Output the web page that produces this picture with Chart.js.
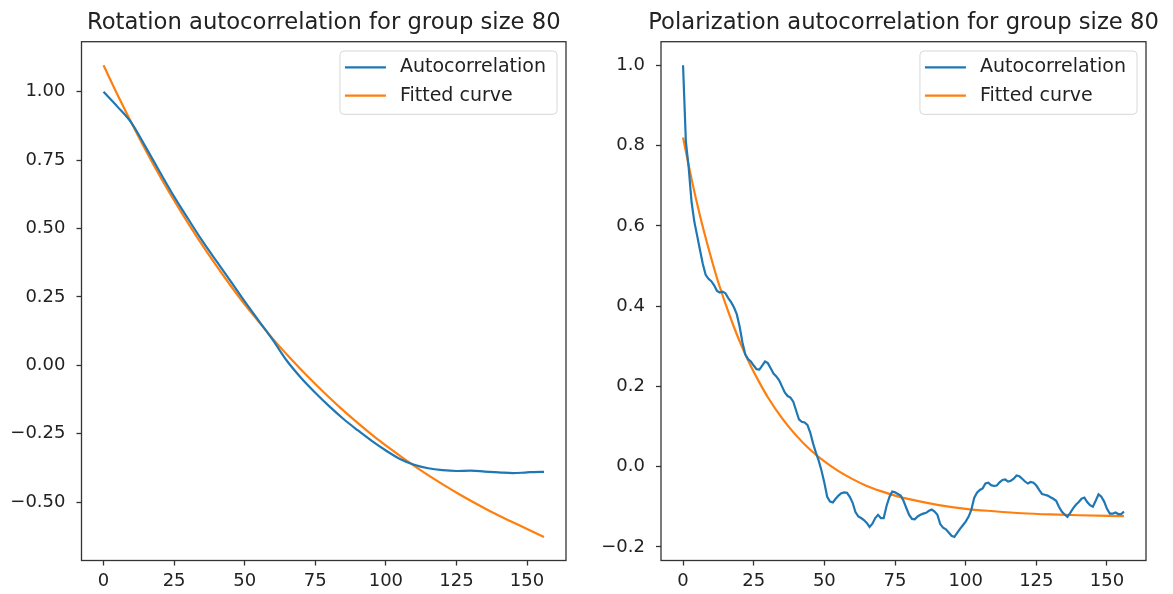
<!DOCTYPE html>
<html>
<head>
<meta charset="utf-8">
<title>Autocorrelation for group size 80</title>
<script src="https://cdn.jsdelivr.net/npm/chart.js@4.4.1/dist/chart.umd.min.js"></script>
<style>
  html, body { margin: 0; padding: 0; background: #ffffff; }
  #wrap { position: relative; width: 1173px; height: 594px; overflow: hidden; }
  .panel { position: absolute; top: 0; height: 594px; }
</style>
</head>
<body>
<div id="wrap">
  <div class="panel" style="left:0;width:590px"><canvas id="rotation"></canvas></div>
  <div class="panel" style="left:590px;width:583px"><canvas id="polarization"></canvas></div>
</div>
<script>
// ---- tick values and labels ----
const xTicks = [0, 25, 50, 75, 100, 125, 150];
const xTickLabels = ['0', '25', '50', '75', '100', '125', '150'];
const rotYTicks = [-0.5, -0.25, 0, 0.25, 0.5, 0.75, 1.0];
const rotYTickLabels = ['\u22120.50', '\u22120.25', '0.00', '0.25', '0.50', '0.75', '1.00'];
const polYTicks = [-0.2, 0, 0.2, 0.4, 0.6, 0.8, 1.0];
const polYTickLabels = ['\u22120.2', '0.0', '0.2', '0.4', '0.6', '0.8', '1.0'];

const seriesNames = ['Autocorrelation', 'Fitted curve'];

// ---- rotation: measured autocorrelation ----
const rotLags = [0, 5, 10, 15, 20, 25, 30, 35, 40, 45, 50, 55, 60, 65, 70, 75, 80, 85, 90, 95,
                 100, 105, 110, 115, 120, 125, 130, 135, 140, 145, 150, 155, 156];
const rotAuto = [1.000, 0.945, 0.885, 0.797, 0.706, 0.617, 0.535, 0.455, 0.381, 0.308,
                 0.234, 0.163, 0.092, 0.016, -0.046, -0.100, -0.150, -0.196, -0.237, -0.276,
                 -0.311, -0.342, -0.363, -0.376, -0.383, -0.386, -0.385, -0.388, -0.391, -0.394,
                 -0.391, -0.389, -0.389];

// ---- rotation: fitted curve ----
const rotFitLags = [0, 6, 12, 18, 24, 30, 36, 42, 48, 54, 60, 66, 72, 78, 84, 90, 96, 102,
                    108, 114, 120, 126, 132, 138, 144, 150, 156];
const rotFit = [1.097, 0.967, 0.844, 0.728, 0.620, 0.519, 0.424, 0.335, 0.250, 0.172,
                0.097, 0.028, -0.037, -0.098, -0.156, -0.210, -0.261, -0.308, -0.353, -0.395,
                -0.434, -0.471, -0.506, -0.539, -0.569, -0.598, -0.627];

// ---- polarization: measured autocorrelation, one value per lag 0..156 ----
const polAuto = [
  1.000, 0.810, 0.745, 0.660, 0.610, 0.575, 0.540, 0.505, 0.478, 0.468,
  0.462, 0.452, 0.438, 0.434, 0.436, 0.432, 0.420, 0.410, 0.397, 0.380,
  0.350, 0.310, 0.280, 0.268, 0.262, 0.252, 0.243, 0.242, 0.252, 0.262,
  0.258, 0.245, 0.232, 0.225, 0.215, 0.200, 0.185, 0.176, 0.172, 0.162,
  0.140, 0.118, 0.112, 0.110, 0.104, 0.085, 0.058, 0.035, 0.015, -0.010,
  -0.040, -0.075, -0.087, -0.089, -0.080, -0.072, -0.066, -0.064, -0.065, -0.075,
  -0.090, -0.113, -0.124, -0.128, -0.133, -0.140, -0.150, -0.142, -0.128, -0.120,
  -0.128, -0.128, -0.098, -0.076, -0.062, -0.064, -0.068, -0.072, -0.085, -0.103,
  -0.120, -0.130, -0.131, -0.124, -0.120, -0.117, -0.115, -0.110, -0.107, -0.112,
  -0.120, -0.143, -0.152, -0.156, -0.164, -0.172, -0.175, -0.165, -0.155, -0.146,
  -0.137, -0.125, -0.108, -0.078, -0.065, -0.058, -0.054, -0.042, -0.040, -0.046,
  -0.048, -0.047, -0.039, -0.033, -0.032, -0.037, -0.035, -0.030, -0.022, -0.024,
  -0.030, -0.037, -0.042, -0.038, -0.040, -0.047, -0.058, -0.068, -0.070, -0.072,
  -0.076, -0.080, -0.085, -0.100, -0.112, -0.119, -0.125, -0.115, -0.104, -0.095,
  -0.088, -0.080, -0.077, -0.088, -0.096, -0.100, -0.085, -0.069, -0.075, -0.087,
  -0.105, -0.117, -0.117, -0.114, -0.118, -0.118, -0.112
];
const polLags = polAuto.map((_, i) => i);

// ---- polarization: fitted curve ----
const polFitLags = [0, 3, 6, 9, 12, 15, 18, 21, 24, 27, 30, 35, 40, 45, 50, 55, 60, 65,
                    70, 75, 80, 90, 100, 110, 120, 130, 140, 156];
const polFit = [0.820, 0.717, 0.625, 0.544, 0.470, 0.406, 0.348, 0.296, 0.250, 0.210,
                0.173, 0.121, 0.078, 0.042, 0.013, -0.011, -0.031, -0.048, -0.061, -0.072,
                -0.081, -0.095, -0.105, -0.111, -0.116, -0.119, -0.121, -0.123];

// ---- styling ----
const FONT = '"DejaVu Sans", "Liberation Sans", sans-serif';
const INK = '#222222';
const FRAME = '#333333';
const BLUE = '#1f77b4';
const ORANGE = '#ff7f0e';

const toPoints = (xs, ys) => xs.map((x, i) => ({ x: x, y: ys[i] }));

// axis limits with a 5% margin around the data, like a default pyplot axes
function paddedRange(arrays) {
  const all = [].concat(...arrays);
  const lo = Math.min(...all), hi = Math.max(...all);
  const m = (hi - lo) * 0.05;
  return [lo - m, hi + m];
}

// title centred over the plotting area; allowed to run wider than the axes
const axesTitle = {
  id: 'axesTitle',
  afterDraw(chart, args, opts) {
    const { ctx, chartArea: a } = chart;
    ctx.save();
    ctx.font = '22.7px ' + FONT;
    ctx.fillStyle = INK;
    ctx.textAlign = 'center';
    ctx.textBaseline = 'alphabetic';
    ctx.fillText(opts.text, (a.left + a.right) / 2, 28.5);
    ctx.restore();
  }
};

// box around the plotting area (drawn above the lines)
const frameBox = {
  id: 'frameBox',
  afterDatasetsDraw(chart) {
    const { ctx, chartArea: a } = chart;
    ctx.save();
    ctx.strokeStyle = FRAME;
    ctx.lineWidth = 1.3;
    ctx.strokeRect(a.left, a.top, a.right - a.left, a.bottom - a.top);
    ctx.restore();
  }
};

// legend in the upper-right corner inside the axes
const insetLegend = {
  id: 'insetLegend',
  afterDraw(chart) {
    const { ctx, chartArea: a } = chart;
    const items = chart.data.datasets;
    ctx.save();
    ctx.font = '19px ' + FONT;
    const textW = Math.max(...items.map(d => ctx.measureText(d.label).width));
    const padL = 5, handle = 41, gap = 14, padR = 11, rowH = 28.4, padT = 16.3, h = 63.3;
    const w = padL + handle + gap + textW + padR;
    const right = a.right - 9;
    const left = right - w;
    const top = a.top + 9.3;
    ctx.beginPath();
    ctx.roundRect(left, top, w, h, 4);
    ctx.fillStyle = 'rgba(255,255,255,0.85)';
    ctx.fill();
    ctx.strokeStyle = '#d8d8d8';
    ctx.lineWidth = 1;
    ctx.stroke();
    items.forEach((d, i) => {
      const y = top + padT + i * rowH;
      ctx.beginPath();
      ctx.moveTo(left + padL, y);
      ctx.lineTo(left + padL + handle, y);
      ctx.strokeStyle = d.borderColor;
      ctx.lineWidth = d.borderWidth;
      ctx.stroke();
      ctx.fillStyle = INK;
      ctx.textAlign = 'left';
      ctx.textBaseline = 'middle';
      ctx.fillText(d.label, left + padL + handle + gap, y);
    });
    ctx.restore();
  }
};

function makeChart(canvasId, cfg) {
  const [xMin, xMax] = paddedRange([cfg.autoLags, cfg.fitLags]);
  const [yMin, yMax] = paddedRange([cfg.auto, cfg.fit]);
  return new Chart(document.getElementById(canvasId), {
    type: 'line',
    data: {
      datasets: [
        {
          label: seriesNames[0],
          data: toPoints(cfg.autoLags, cfg.auto),
          borderColor: BLUE,
          borderWidth: 2.2,
          pointRadius: 0,
          fill: false,
          cubicInterpolationMode: cfg.smoothAuto ? 'monotone' : 'default',
          tension: 0
        },
        {
          label: seriesNames[1],
          data: toPoints(cfg.fitLags, cfg.fit),
          borderColor: ORANGE,
          borderWidth: 2.2,
          pointRadius: 0,
          fill: false,
          cubicInterpolationMode: 'monotone'
        }
      ]
    },
    options: {
      responsive: true,
      maintainAspectRatio: false,
      animation: false,
      devicePixelRatio: 1,
      events: [],
      layout: { padding: { left: 0, right: cfg.padRight, top: 41.7, bottom: 0 } },
      plugins: {
        legend: { display: false },
        tooltip: { enabled: false },
        title: { display: false },
        axesTitle: { text: cfg.title }
      },
      scales: {
        x: {
          type: 'linear',
          min: xMin,
          max: xMax,
          border: { display: false },
          grid: { display: true, drawOnChartArea: false, drawTicks: true, tickLength: 5, tickColor: FRAME, tickWidth: 1.3 },
          afterBuildTicks: s => { s.ticks = xTicks.map(v => ({ value: v })); },
          afterFit: s => { s.height = 33.5; },
          ticks: {
            color: INK,
            font: { family: FONT, size: 18 },
            padding: 5,
            maxRotation: 0,
            autoSkip: false,
            callback: (v, i) => xTickLabels[i]
          }
        },
        y: {
          type: 'linear',
          min: yMin,
          max: yMax,
          border: { display: false },
          grid: { display: true, drawOnChartArea: false, drawTicks: true, tickLength: 5, tickColor: FRAME, tickWidth: 1.3 },
          afterBuildTicks: s => { s.ticks = cfg.yTicks.map(v => ({ value: v })); },
          afterFit: s => { s.width = cfg.yAxisWidth; },
          ticks: {
            color: INK,
            font: { family: FONT, size: 18 },
            padding: 11,
            autoSkip: false,
            callback: (v, i) => cfg.yTickLabels[i]
          }
        }
      }
    },
    plugins: [axesTitle, frameBox, insetLegend]
  });
}

makeChart('rotation', {
  title: 'Rotation autocorrelation for group size 80',
  autoLags: rotLags, auto: rotAuto, smoothAuto: true,
  fitLags: rotFitLags, fit: rotFit,
  yTicks: rotYTicks, yTickLabels: rotYTickLabels,
  yAxisWidth: 81.5, padRight: 24
});

makeChart('polarization', {
  title: 'Polarization autocorrelation for group size 80',
  autoLags: polLags, auto: polAuto, smoothAuto: false,
  fitLags: polFitLags, fit: polFit,
  yTicks: polYTicks, yTickLabels: polYTickLabels,
  yAxisWidth: 71, padRight: 27
});
</script>
</body>
</html>
